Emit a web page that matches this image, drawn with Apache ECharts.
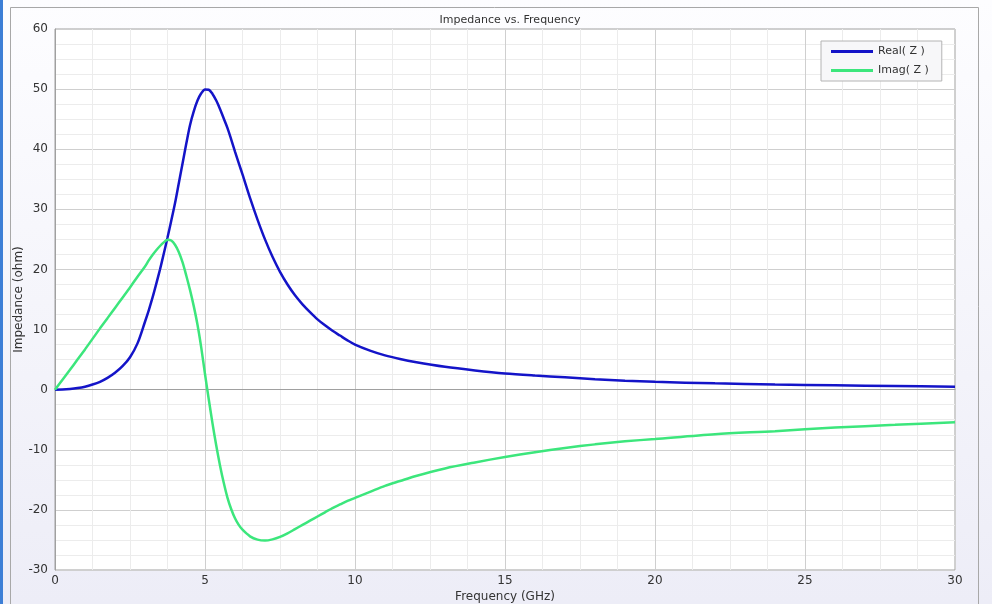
<!DOCTYPE html>
<html>
<head>
<meta charset="utf-8">
<script src="https://cdn.jsdelivr.net/npm/echarts@6/dist/echarts.min.js"></script>
<style>
  html, body { margin: 0; padding: 0; }
  #chart { width: 992px; height: 604px; }
</style>
</head>
<body>
<div id="chart"></div>
<script>
// frequency points (GHz)
var freq = [0, 0.25, 0.5, 0.75, 1, 1.25, 1.5, 1.75, 2, 2.25, 2.5, 2.75, 3, 3.125, 3.25, 3.375, 3.5, 3.625, 3.75, 3.875,
  4, 4.125, 4.25, 4.375, 4.5, 4.625, 4.75, 4.875, 5, 5.125, 5.25, 5.375, 5.5, 5.625, 5.75, 5.875,
  6, 6.125, 6.25, 6.5, 6.75, 7, 7.25, 7.5, 7.75, 8, 8.25, 8.5, 8.75, 9, 9.25, 9.5, 9.75, 10,
  10.5, 11, 11.5, 12, 13, 14, 15, 16, 17, 18, 19, 20, 22, 24, 26, 28, 30];
// Real(Z)
var realZ = [0, 0.03, 0.12, 0.27, 0.5, 0.85, 1.3, 1.95, 2.8, 3.9, 5.4, 7.7, 11.3, 13.2, 15.3, 17.6, 20.0, 22.6, 25.3, 28.1,
  31.0, 34.3, 37.6, 40.9, 44.0, 46.3, 48.1, 49.3, 49.95, 49.9, 49.2, 48.1, 46.7, 45.1, 43.5, 41.6,
  39.6, 37.7, 35.8, 31.9, 28.3, 25.0, 22.1, 19.6, 17.5, 15.7, 14.2, 12.9, 11.7, 10.7, 9.8, 9.0, 8.2, 7.5,
  6.5, 5.7, 5.1, 4.6, 3.8, 3.2, 2.7, 2.35, 2.05, 1.75, 1.5, 1.3, 1.05, 0.85, 0.72, 0.6, 0.5];
// Imag(Z)
var imagZ = [0, 1.65, 3.3, 5.0, 6.7, 8.45, 10.2, 11.9, 13.6, 15.3, 17.0, 18.8, 20.5, 21.5, 22.4, 23.2, 23.9, 24.5, 24.95, 24.8,
  24.1, 22.9, 21.2, 19.0, 16.6, 13.9, 10.8, 7.0, 2.6, -1.6, -5.6, -9.3, -12.6, -15.5, -18.0, -19.9,
  -21.4, -22.5, -23.3, -24.4, -24.95, -25.1, -24.9, -24.5, -23.9, -23.2, -22.5, -21.8, -21.1, -20.4, -19.7, -19.1, -18.5, -18.0,
  -17.0, -16.0, -15.2, -14.4, -13.1, -12.1, -11.2, -10.4, -9.7, -9.1, -8.6, -8.2, -7.4, -6.9, -6.3, -5.85, -5.4];
var seriesNames = ['Real( Z )', 'Imag( Z )'];
var seriesColors = ['#1414c8', '#3ce67c'];

function pairs(ys) {
  return freq.map(function (f, i) { return [f, ys[i]]; });
}

var font = 'DejaVu Sans';
var chart = echarts.init(document.getElementById('chart'));
chart.setOption({
  backgroundColor: new echarts.graphic.LinearGradient(0, 0, 0, 1, [
    { offset: 0, color: '#fdfdff' },
    { offset: 1, color: '#ededf7' }
  ]),
  animation: false,
  title: {
    text: 'Impedance vs. Frequency',
    left: 505,
    textAlign: 'center',
    top: 10,
    textStyle: { fontFamily: font, fontSize: 11, fontWeight: 'normal', color: '#333' }
  },
  graphic: [
    { type: 'rect', shape: { x: 0, y: 0, width: 3, height: 604 }, style: { fill: '#3d7fd6' } },
    { type: 'rect', shape: { x: 10.5, y: 7.5, width: 968, height: 620 },
      style: { fill: null, stroke: '#a8a8a8', lineWidth: 1 } }
  ],
  legend: {
    orient: 'vertical',
    left: 821,
    top: 41,
    padding: [5, 13, 5, 10],
    itemGap: 8,
    itemWidth: 42,
    itemHeight: 3,
    icon: 'rect',
    backgroundColor: '#f7f7f9',
    borderColor: '#b4b4b4',
    borderWidth: 1,
    textStyle: { fontFamily: font, fontSize: 11, color: '#333' },
    data: seriesNames
  },
  grid: {
    left: 55, top: 29, width: 900, height: 541,
    outerBoundsMode: 'none',
    containLabel: false,
    show: true, backgroundColor: '#ffffff', borderColor: '#a0a0a0', borderWidth: 1
  },
  xAxis: {
    type: 'value', min: 0, max: 30, interval: 5,
    name: 'Frequency (GHz)', nameLocation: 'middle', nameGap: 21, nameMoveOverlap: false,
    nameTextStyle: { fontFamily: font, fontSize: 12, color: '#333' },
    axisLine: { show: true, lineStyle: { color: '#a0a0a0' } },
    axisTick: { show: false },
    axisLabel: { fontFamily: font, fontSize: 12, color: '#333', margin: 5 },
    splitLine: { show: true, lineStyle: { color: '#cfcfcf', width: 1 } },
    minorTick: { show: false, splitNumber: 4 },
    minorSplitLine: { show: true, lineStyle: { color: '#ececec', width: 1 } }
  },
  yAxis: {
    type: 'value', min: -30, max: 60, interval: 10,
    name: 'Impedance (ohm)', nameLocation: 'middle', nameGap: 30, nameMoveOverlap: false,
    nameTextStyle: { fontFamily: font, fontSize: 12, color: '#333' },
    axisLine: { show: true, lineStyle: { color: '#a0a0a0' } },
    axisTick: { show: false },
    axisLabel: { fontFamily: font, fontSize: 12, color: '#333', margin: 7 },
    splitLine: { show: true, lineStyle: { color: '#cfcfcf', width: 1 } },
    minorTick: { show: false, splitNumber: 4 },
    minorSplitLine: { show: true, lineStyle: { color: '#ececec', width: 1 } }
  },
  series: [
    {
      name: seriesNames[0], type: 'line', data: pairs(realZ),
      smooth: 0.3, showSymbol: false, color: seriesColors[0],
      lineStyle: { width: 2.5, color: seriesColors[0] }
    },
    {
      name: seriesNames[1], type: 'line', data: pairs(imagZ),
      smooth: 0.3, showSymbol: false, color: seriesColors[1],
      lineStyle: { width: 2.5, color: seriesColors[1] }
    }
  ]
});
</script>
</body>
</html>
